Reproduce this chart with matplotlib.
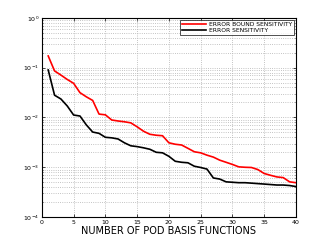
import matplotlib
matplotlib.use("Agg")
import matplotlib.pyplot as plt
import numpy as np
from matplotlib.ticker import LogLocator, NullFormatter, MultipleLocator

n_basis = list(range(1, 41))
error_bound_sensitivity = [0.172, 0.086, 0.071, 0.058, 0.0485, 0.0315, 0.026, 0.022, 0.0117, 0.0113,
                           0.0089, 0.0085, 0.0082, 0.0078, 0.0065, 0.0053, 0.0046, 0.0044, 0.0043, 0.0031,
                           0.0029, 0.0028, 0.0024, 0.00205, 0.00195, 0.00175, 0.0016, 0.00139, 0.00126, 0.00114,
                           0.00102, 0.001, 0.00099, 0.0009, 0.00075, 0.00069, 0.00064, 0.00062, 0.00051, 0.00049]
error_sensitivity = [0.09, 0.028, 0.0235, 0.017, 0.0112, 0.0107, 0.0071, 0.0051, 0.0048, 0.004,
                     0.0039, 0.0037, 0.0031, 0.0027, 0.0026, 0.00246, 0.0023, 0.002, 0.00195, 0.00166,
                     0.00132, 0.00126, 0.00123, 0.00105, 0.00099, 0.00092, 0.00061, 0.00058, 0.00051, 0.0005,
                     0.00049, 0.00049, 0.00048, 0.00047, 0.00046, 0.00045, 0.00044, 0.00044, 0.00043, 0.00041]
labels = ["ERROR BOUND SENSITIVITY", "ERROR SENSITIVITY"]
xlabel = "NUMBER OF POD BASIS FUNCTIONS"

fig = plt.figure(figsize=(3.27, 2.45), dpi=100)
ax = fig.add_axes([0.128, 0.114, 0.777, 0.813])
ax.semilogy(n_basis, error_bound_sensitivity, color="red", lw=1.2, label=labels[0])
ax.semilogy(n_basis, error_sensitivity, color="black", lw=1.2, label=labels[1])
ax.set_xlim(0, 40)
ax.set_ylim(1e-4, 1)
ax.xaxis.set_major_locator(MultipleLocator(5))
ax.yaxis.set_major_locator(LogLocator(base=10, numticks=10))
ax.yaxis.set_minor_locator(LogLocator(base=10, subs=np.arange(2, 10), numticks=10))
ax.yaxis.set_minor_formatter(NullFormatter())
ax.grid(True, which="major", color="#b0b0b0", linestyle=":", linewidth=0.6)
ax.grid(True, which="minor", axis="y", color="#b0b0b0", linestyle=":", linewidth=0.6)
ax.tick_params(which="both", direction="in", top=True, right=True, labelsize=4.5, pad=2,
               length=2, width=0.5)
ax.tick_params(which="minor", length=1)
for s in ax.spines.values():
    s.set_linewidth(0.8)
ax.set_xlabel(xlabel, fontsize=7, labelpad=1)
leg = ax.legend(loc="upper right", fontsize=4.3, frameon=True, fancybox=False,
                edgecolor="black", handlelength=4, borderpad=0.3, labelspacing=0.2,
                handletextpad=0.5, borderaxespad=0.3)
leg.get_frame().set_linewidth(0.6)
fig.savefig("out.png", dpi=100)
